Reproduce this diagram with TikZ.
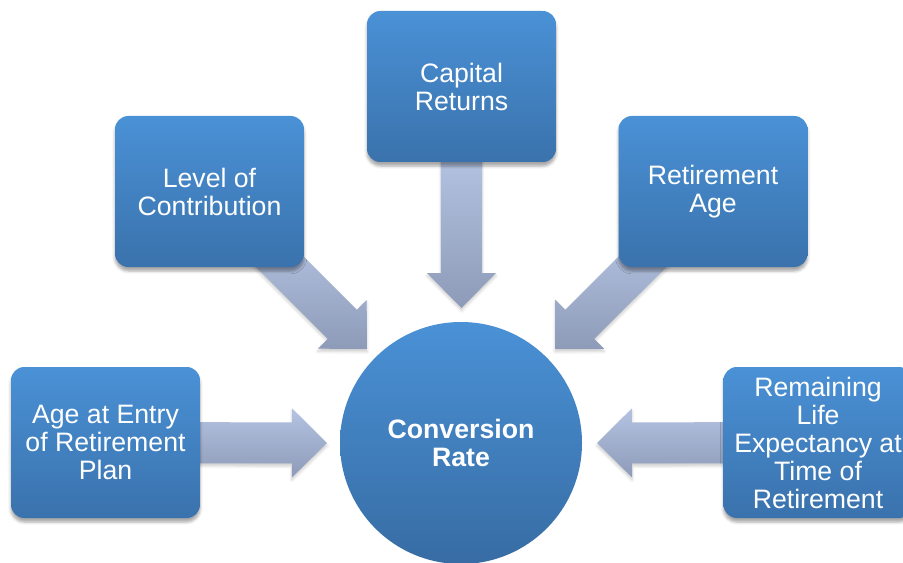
\documentclass[tikz,border=0pt]{standalone}
\usepackage{fontspec}
\setmainfont{Liberation Sans}
\usetikzlibrary{calc,backgrounds,shadows.blur}
\definecolor{boxtop}{RGB}{74,145,214}
\definecolor{boxbot}{RGB}{58,114,172}
\definecolor{arrtop}{RGB}{180,195,225}
\definecolor{arrbot}{RGB}{141,155,185}
\tikzset{
  factor/.style={rectangle, rounded corners=10pt, top color=boxtop, bottom color=boxbot,
    minimum width=141.75pt, minimum height=113.25pt, inner sep=0pt, align=center,
    text=white, font=\fontsize{20}{21}\selectfont,
    blur shadow={shadow xshift=0pt, shadow yshift=-3pt, shadow opacity=35}},
  rate/.style={circle, top color=boxtop, bottom color=boxbot!95!black,
    minimum size=181.5pt, inner sep=0pt, align=center,
    text=white, font=\fontsize{20}{21}\selectfont\bfseries},
  fatarrow/.style={top color=arrtop, bottom color=arrbot,
    blur shadow={shadow xshift=0pt, shadow yshift=-2pt, shadow opacity=20}}
}
\begin{document}
\begin{tikzpicture}[x=0.75pt,y=-0.75pt]
  \useasboundingbox (0,0) rectangle (903,563);
  \clip (0,0) rectangle (903,563);
  % centre
  \node[rate] (conv) at (461,443) {Conversion\\Rate};
  % factors around it
  \node[factor] (cap) at (461.5,86.5) {Capital\\Returns};
  \node[factor] (lvl) at (209.5,191.5) {Level of\\Contribution};
  \node[factor] (ret) at (713,191.5) {Retirement\\Age};
  \node[factor] (age) at (105.5,442.5) {Age at Entry\\of Retirement\\Plan};
  \node[factor] (rem) at (818,442.5) {Remaining\\Life\\Expectancy at\\Time of\\Retirement};
  % arrow tips
  \coordinate (capT) at (461.5,308);
  \coordinate (lvlT) at (367,349);
  \coordinate (retT) at (555,349);
  \coordinate (ageT) at (327,443);
  \coordinate (remT) at (597,443);
  % block arrows behind the boxes
  \begin{scope}[on background layer]
    \foreach \from/\to/\f in {cap/capT/0.3, lvl/lvlT/0.35, ret/retT/0.35, age/ageT/0, rem/remT/0} {
      \coordinate (s) at ($(\from)!\f!(\to)$);
      \coordinate (h) at ($(\to)!26.25pt!(s)$);
      \shade[fatarrow] ($(s)!15.4pt!90:(\to)$) -- ($(h)!15.4pt!90:(\to)$)
        -- ($(h)!25.9pt!90:(\to)$) -- (\to) -- ($(h)!25.9pt!-90:(\to)$)
        -- ($(h)!15.4pt!-90:(\to)$) -- ($(s)!15.4pt!-90:(\to)$) -- cycle;
    }
  \end{scope}
\end{tikzpicture}
\end{document}
